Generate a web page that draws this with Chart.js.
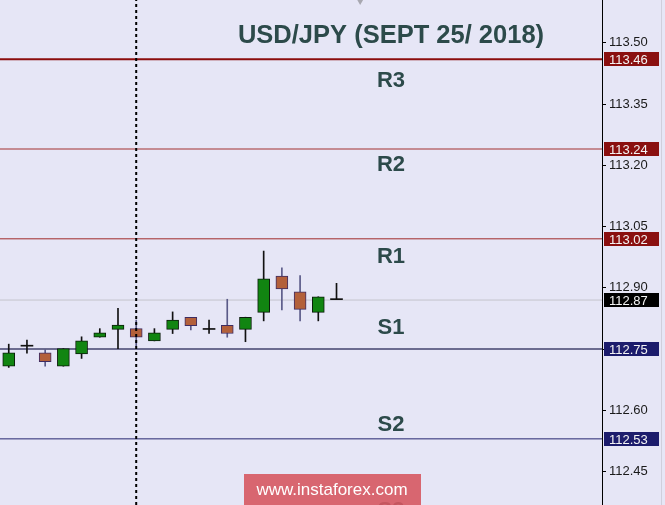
<!DOCTYPE html>
<html>
<head>
    <title>USD/JPY (SEPT 25/ 2018)</title>
    <meta charset="UTF-8">
    <style>
        body {
            margin: 0;
            background: #e6e6f6;
            font-family: "Liberation Sans", Arial, sans-serif;
        }
        #wrap {
            width: 665px;
            height: 505px;
            position: relative;
        }
    </style>
    <script src="https://cdn.jsdelivr.net/npm/chart.js"></script>
</head>
<body>
    <div id="wrap"><canvas id="fxChart"></canvas></div>

    <script>
        // hourly candles
        const opens  = [112.708, 112.757, 112.741, 112.708, 112.738, 112.779, 112.798, 112.800, 112.770, 112.798,
                        112.828, 112.798, 112.808, 112.798, 112.840, 112.929, 112.890, 112.840, 112.871];
        const highs  = [112.762, 112.772, 112.749, 112.751, 112.780, 112.800, 112.850, 112.821, 112.800, 112.841,
                        112.828, 112.821, 112.872, 112.828, 112.990, 112.949, 112.930, 112.878, 112.911];
        const lows   = [112.705, 112.740, 112.708, 112.708, 112.727, 112.779, 112.751, 112.757, 112.770, 112.788,
                        112.797, 112.788, 112.779, 112.768, 112.819, 112.846, 112.819, 112.819, 112.871];
        const closes = [112.741, 112.757, 112.719, 112.751, 112.770, 112.790, 112.809, 112.779, 112.790, 112.821,
                        112.807, 112.798, 112.788, 112.828, 112.922, 112.897, 112.847, 112.878, 112.871];

        const levelNames  = ['R3', 'R2', 'R1', 'S1', 'S2', 'S3'];
        const levelValues = [113.46, 113.24, 113.02, 112.75, 112.53, 112.31];
        const lastPrice = 112.87;
        const sessionStart = 7;      // dotted line, index of candle
        const timeMarker = [19.3];   // small grey arrow at the top

        const tickValues = [112.45, 112.60, 112.75, 112.90, 113.05, 113.20, 113.35, 113.50];
        const titleText = 'USD/JPY (SEPT 25/ 2018)';
        const watermark = 'www.instaforex.com';

        const yMin = 112.368, yMax = 113.605;
        const xMin = -0.48, xMax = 32.58;

        const GREEN = '#118511', BROWN = '#b3603a';
        const levelColors = ['#8b0d0d', '#a33030', '#a02a2a', '#6c6c90', '#262670', '#262670'];
        const levelWidths = [2, 1, 1, 2, 1, 1];
        const labelOffsets = [22, 16, 18, -21, -14, -18];
        const tagColors = ['#8a1010', '#8a1010', '#8a1010', '#1c1c6c', '#1c1c6c', '#1c1c6c'];

        const idx = opens.map((_, i) => i);
        const bodyColor = idx.map(i => closes[i] > opens[i] ? GREEN : (closes[i] < opens[i] ? BROWN : '#111'));
        const bodyBorder = idx.map(i => closes[i] > opens[i] ? '#0b1d0b' : (closes[i] < opens[i] ? '#3e2c62' : '#111'));
        const bodyBorderW = idx.map(i => closes[i] === opens[i] ? 0 : 1);
        const wickColor = idx.map(i => closes[i] < opens[i] ? '#5a5a88' : '#111');
        const hasWick = idx.filter(i => highs[i] > lows[i]);

        const datasets = [
            {
                type: 'bar',
                data: idx.map(i => ({ x: i, y: [opens[i], closes[i]] })),
                backgroundColor: bodyColor,
                borderColor: bodyBorder,
                borderWidth: bodyBorderW,
                borderSkipped: false,
                barThickness: 12,
                minBarLength: 1,
                grouped: false,
                order: 1
            },
            {
                type: 'bar',
                data: hasWick.map(i => ({ x: i, y: [lows[i], highs[i]] })),
                backgroundColor: hasWick.map(i => wickColor[i]),
                barThickness: 1,
                grouped: false,
                order: 2
            },
            {
                type: 'line',
                data: [{ x: sessionStart, y: yMin }, { x: sessionStart, y: yMax }],
                borderColor: '#000',
                borderWidth: 2,
                borderDash: [3, 3],
                pointRadius: 0,
                order: 0
            },
            {
                type: 'line',
                data: [{ x: xMin, y: lastPrice }, { x: xMax, y: lastPrice }],
                borderColor: '#c4c4cc',
                borderWidth: 1,
                pointRadius: 0,
                order: 3
            },
            {
                type: 'scatter',
                data: timeMarker.map(v => ({ x: v, y: yMax })),
                pointStyle: 'triangle',
                rotation: 180,
                radius: 5,
                backgroundColor: '#a8a8b0',
                borderWidth: 0,
                order: 0
            }
        ];

        levelValues.forEach((v, k) => {
            datasets.push({
                type: 'line',
                data: [{ x: xMin, y: v }, { x: xMax, y: v }],
                borderColor: levelColors[k],
                borderWidth: levelWidths[k],
                pointRadius: 0,
                order: 3
            });
        });

        const decor = {
            id: 'decor',
            beforeDraw(chart) {
                const c = chart.ctx;
                c.save();
                c.fillStyle = '#e6e6f6';
                c.fillRect(0, 0, chart.width, chart.height);
                c.strokeStyle = '#cfcfdc';
                c.lineWidth = 1;
                c.beginPath();
                c.moveTo(661.5, 0);
                c.lineTo(661.5, chart.height);
                c.stroke();
                c.restore();
            },
            afterDraw(chart) {
                const c = chart.ctx;
                const y = chart.scales.y;
                const area = chart.chartArea;
                const cx = 391;
                c.save();
                c.fillStyle = '#2c4a4a';
                c.textAlign = 'center';
                c.textBaseline = 'middle';
                c.font = 'bold 25.5px "Liberation Sans", Arial, sans-serif';
                c.fillText(titleText, cx, 36);

                c.font = 'bold 22px "Liberation Sans", Arial, sans-serif';
                levelNames.forEach((name, k) => {
                    c.fillText(name, cx, y.getPixelForValue(levelValues[k]) + labelOffsets[k]);
                });

                // price tags on the axis
                c.font = '13px "Liberation Sans", Arial, sans-serif';
                c.textAlign = 'left';
                const tag = (v, col) => {
                    const py = Math.round(y.getPixelForValue(v));
                    c.fillStyle = col;
                    c.fillRect(area.right + 2, py - 7, 55, 14);
                    c.fillStyle = '#f4f4f4';
                    c.fillText(v.toFixed(2), area.right + 7, py + 1);
                };
                levelValues.forEach((v, k) => {
                    if (v >= yMin) tag(v, tagColors[k]);
                });
                tag(lastPrice, '#000');

                // watermark
                c.fillStyle = 'rgba(214, 88, 98, 0.9)';
                c.fillRect(244, 474, 177, 31);
                c.fillStyle = '#ffffff';
                c.textAlign = 'center';
                c.font = '17px "Liberation Sans", Arial, sans-serif';
                c.fillText(watermark, 332, 490);
                c.restore();
            }
        };

        const ctx = document.getElementById('fxChart').getContext('2d');
        const chart = new Chart(ctx, {
            data: { datasets: datasets },
            options: {
                responsive: true,
                maintainAspectRatio: false,
                animation: false,
                layout: { padding: 0, autoPadding: false },
                plugins: {
                    legend: { display: false },
                    tooltip: { enabled: false }
                },
                scales: {
                    x: {
                        type: 'linear',
                        min: xMin,
                        max: xMax,
                        offset: false,
                        display: false
                    },
                    y: {
                        position: 'right',
                        min: yMin,
                        max: yMax,
                        afterBuildTicks: (scale) => {
                            scale.ticks = tickValues.map(v => ({ value: v }));
                        },
                        afterFit: (scale) => {
                            scale.width = 63;
                            scale.paddingTop = 0;
                            scale.paddingBottom = 0;
                        },
                        grid: {
                            drawOnChartArea: false,
                            tickLength: 4,
                            color: '#000'
                        },
                        border: { color: '#000', width: 1 },
                        ticks: {
                            padding: 3,
                            color: '#1a1a1a',
                            font: { size: 13, family: '"Liberation Sans", Arial, sans-serif' },
                            callback: (v) => Number(v).toFixed(2)
                        }
                    }
                }
            },
            plugins: [decor]
        });
    </script>
</body>
</html>
